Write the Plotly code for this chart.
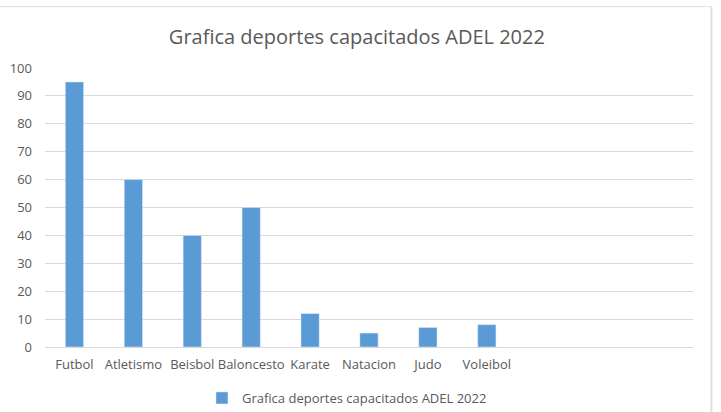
import plotly.graph_objects as go

# datos
deportes = ['Futbol', 'Atletismo', 'Beisbol', 'Baloncesto', 'Karate', 'Natacion', 'Judo', 'Voleibol']
capacitados = [95, 60, 40, 50, 12, 5, 7, 8]
serie = 'Grafica deportes capacitados ADEL 2022'
y_ticks = [0, 10, 20, 30, 40, 50, 60, 70, 80, 90, 100]

gris = '#595959'
fuente = 'Open Sans, Liberation Sans, sans-serif'

fig = go.Figure()
fig.add_trace(go.Bar(
    x=deportes,
    y=capacitados,
    name=serie,
    marker=dict(color='#5b9bd5'),
    showlegend=True,
))

fig.update_layout(
    width=721, height=412,
    margin=dict(l=45, r=28, t=68, b=65, autoexpand=False),
    paper_bgcolor='white', plot_bgcolor='white',
    bargap=0.69,
    font=dict(family=fuente, color=gris, size=13),
    title=dict(text=serie, x=0.495, xanchor='center', y=0.91, yanchor='middle',
               font=dict(size=20, color=gris, family=fuente)),
    legend=dict(orientation='h', x=0.466, xanchor='center', yref='container', y=0.034,
                yanchor='middle', font=dict(size=13, color=gris), itemwidth=30),
    xaxis=dict(range=[-0.5, 10.5], showgrid=False, showline=True, linecolor='#d9d9d9',
               ticks='', ticklabelstandoff=5, automargin=False,
               tickfont=dict(size=13, color=gris)),
    yaxis=dict(range=[0, 100], tickvals=y_ticks, showgrid=True, gridcolor='#d9d9d9',
               zeroline=False, showline=False, ticks='', ticklabelstandoff=12,
               automargin=False, tickfont=dict(size=13, color=gris)),
    shapes=[
        dict(type='line', xref='paper', yref='paper', x0=-0.1, x1=1.0285, y0=1.22, y1=1.22,
             line=dict(color='#e0e0e0', width=1)),
        dict(type='line', xref='paper', yref='paper', x0=1.0285, x1=1.0285, y0=1.22, y1=-0.25,
             line=dict(color='#e0e0e0', width=2)),
    ],
)

# quitar el margen por defecto del body
fig.write_html("out.html", config={'displayModeBar': False},
               post_script="document.body.style.margin='0';")
